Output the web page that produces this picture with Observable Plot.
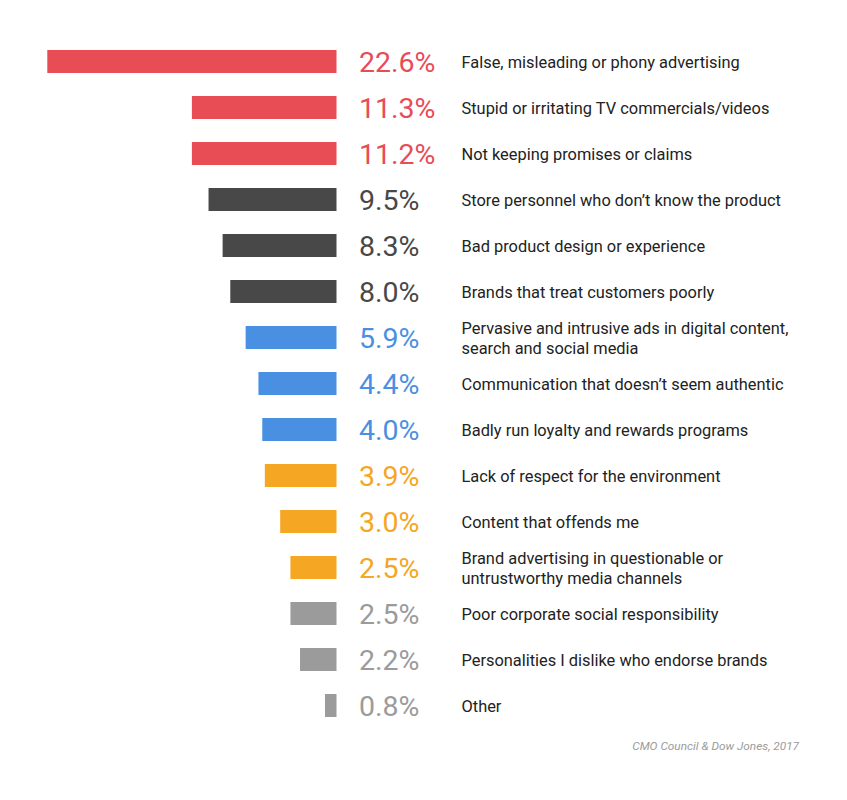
<!DOCTYPE html>
<html>
<head>
<meta charset="utf-8">
<script src="https://cdn.jsdelivr.net/npm/d3@7"></script>
<script src="https://cdn.jsdelivr.net/npm/@observablehq/plot@0.6"></script>
<style>
  html, body { margin: 0; padding: 0; background: #fff; }
  #chart svg { display: block; }
  #caption { font-family: Roboto, sans-serif; font-style: italic; font-size: 11.8px; line-height: 16px; color: #9B9B9B; text-align: right; padding-right: 48px; width: 799px; }
</style>
</head>
<body>
<div id="chart"></div>
<div id="caption">CMO Council &amp; Dow Jones, 2017</div>
<script>
// Categories (top to bottom)
const categories = [
  "False, misleading or phony advertising",
  "Stupid or irritating TV commercials/videos",
  "Not keeping promises or claims",
  "Store personnel who don’t know the product",
  "Bad product design or experience",
  "Brands that treat customers poorly",
  "Pervasive and intrusive ads in digital content,\nsearch and social media",
  "Communication that doesn’t seem authentic",
  "Badly run loyalty and rewards programs",
  "Lack of respect for the environment",
  "Content that offends me",
  "Brand advertising in questionable or\nuntrustworthy media channels",
  "Poor corporate social responsibility",
  "Personalities I dislike who endorse brands",
  "Other"
];
// Labelled percentages
const values = [22.6, 11.3, 11.2, 9.5, 8.3, 8.0, 5.9, 4.4, 4.0, 3.9, 3.0, 2.5, 2.5, 2.2, 0.8];
// Bar lengths as drawn in the reference (in % units)
const barLengths = [22.6, 11.3, 11.3, 10.0, 8.9, 8.3, 7.1, 6.1, 5.8, 5.6, 4.4, 3.6, 3.6, 2.85, 0.9];
// Colour group of each row
const groups = ["red","red","red","dark","dark","dark","blue","blue","blue","orange","orange","orange","gray","gray","gray"];
const groupNames = ["red","dark","blue","orange","gray"];
const groupColors = ["#E84C55","#484848","#4A90E2","#F5A623","#9B9B9B"];

const data = categories.map((c, i) => ({
  category: c,
  value: values[i],
  bar: barLengths[i],
  group: groups[i],
  label: values[i].toFixed(1) + "%"
}));

const chart = Plot.plot({
  width: 847,
  height: 738,
  margin: 0,
  style: { fontFamily: "Roboto, sans-serif", background: "#fff" },
  x: { domain: [0, 22.6], range: [336.5, 47.3], axis: null },
  y: { domain: categories, range: [27, 740], padding: 0.5, round: false, axis: null },
  color: { domain: groupNames, range: groupColors },
  marks: [
    Plot.barX(data, { x: "bar", y: "category", fill: "group" }),
    Plot.text(data, {
      x: () => 0, y: "category", text: "label", fill: "group",
      textAnchor: "start", dx: 22, fontSize: 28.5, dy: 1
    }),
    Plot.text(data, {
      x: () => 0, y: "category", text: "category",
      textAnchor: "start", dx: 124.5, fontSize: 16.4, lineHeight: 1.22, fill: "#222"
    })
  ]
});
document.getElementById("chart").appendChild(chart);
</script>
</body>
</html>
